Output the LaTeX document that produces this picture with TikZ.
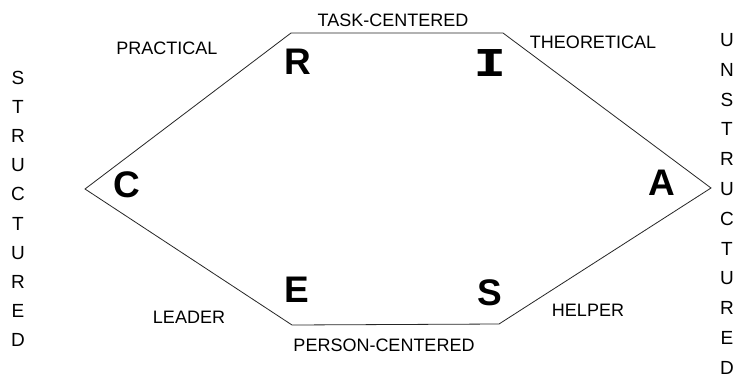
\documentclass[tikz,border=0pt]{standalone}
\usepackage{fontspec}
\usepackage{graphicx}
\setmainfont{Liberation Sans}
\newfontfamily\monoI{DejaVu Sans Mono}
\begin{document}
\begin{tikzpicture}[x=1pt,y=-1pt,
  hand/.style={font=\fontsize{18}{20}\selectfont, inner sep=0pt},
  col/.style={font=\fontsize{19}{21}\selectfont, inner sep=0pt},
  big/.style={font=\fontsize{37}{40}\selectfont\bfseries, inner sep=0pt},
  hexedge/.style={draw=black!85, line width=0.8pt, line join=miter}]
\useasboundingbox[fill=white] (0,0) rectangle (736,381);
% hexagon corners
\coordinate (L) at (85,189);
\coordinate (TL) at (291,33);
\coordinate (TR) at (503,33);
\coordinate (R) at (711,188);
\coordinate (BR) at (499,324);
\coordinate (BL) at (292,325);
\draw[hexedge] (L) -- (TL) -- (TR) -- (R) -- (BR) -- (BL) -- cycle;
% edge labels
\node[hand] (task) at (393,20) {TASK-CENTERED};
\node[hand] (pract) at (167,48) {PRACTICAL};
\node[hand] (theo) at (593,42) {THEORETICAL};
\node[hand] (lead) at (189,317) {LEADER};
\node[hand] (person) at (384,345) {PERSON-CENTERED};
\node[hand] (help) at (588,310) {HELPER};
% big letters
\node[big] (lR) at (298,62) {R};
\node[big] (lI) at (490,63) {\scalebox{1.5}[1]{\monoI I}};
\node[big] (lC) at (127,185) {C};
\node[big] (lA) at (662,183) {A};
\node[big] (lE) at (297,290) {E};
\node[big] (lS) at (490,293) {S};
% vertical words
\foreach \ch [count=\i from 0] in {S,T,R,U,C,T,U,R,E,D}
  \node[col] (s\i) at (18,78+29.1*\i) {\ch};
\foreach \ch [count=\i from 0] in {U,N,S,T,R,U,C,T,U,R,E,D}
  \node[col] (u\i) at (727,40+29.8*\i) {\ch};
\end{tikzpicture}
\end{document}
